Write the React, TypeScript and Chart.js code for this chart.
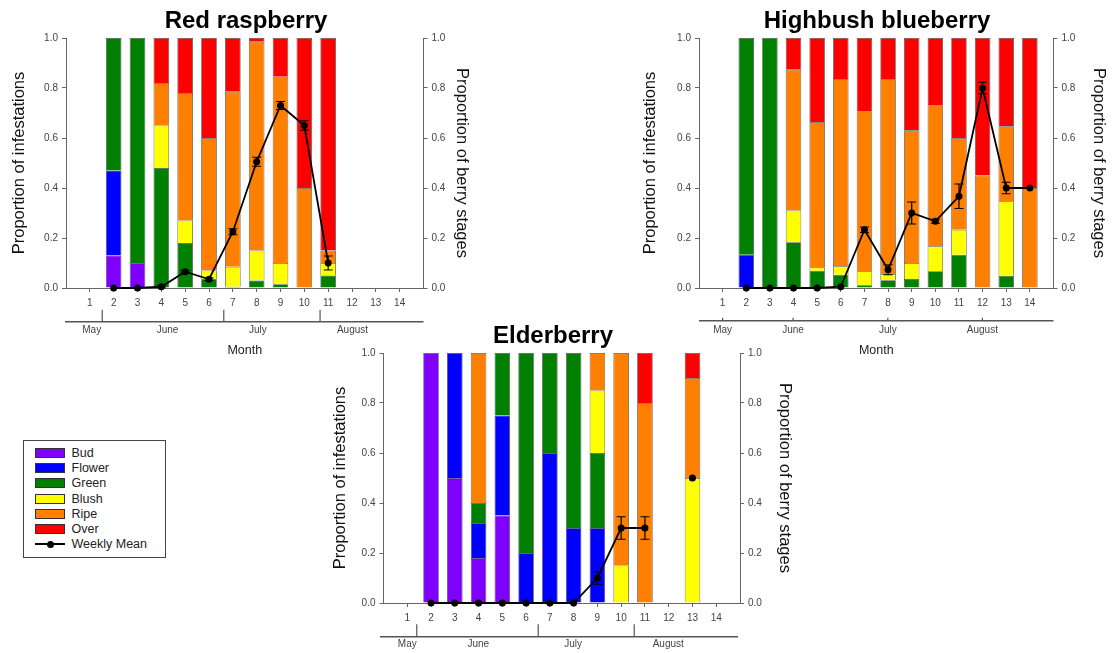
import React, { useEffect, useRef } from 'react';
import { Chart, registerables } from 'chart.js';

Chart.register(...registerables);

const FONT = '"Liberation Sans", Arial, Helvetica, sans-serif';

// ---------- data ----------
const weeks = [1, 2, 3, 4, 5, 6, 7, 8, 9, 10, 11, 12, 13, 14];
const stageNames = ['Bud', 'Flower', 'Green', 'Blush', 'Ripe', 'Over'];
const stageColors = ['#8000FF', '#0000FF', '#008000', '#FFFF00', '#FF8000', '#FF0000'];
const monthNames = ['May', 'June', 'July', 'August'];

// Red raspberry
const raspBud = [0, 0.13, 0.1, 0, 0, 0, 0, 0, 0, 0, 0, 0, 0, 0];
const raspFlower = [0, 0.34, 0, 0, 0, 0, 0, 0, 0, 0, 0, 0, 0, 0];
const raspGreen = [0, 0.53, 0.9, 0.48, 0.18, 0.037, 0.005, 0.03, 0.015, 0, 0.05, 0, 0, 0];
const raspBlush = [0, 0, 0, 0.17, 0.09, 0.033, 0.08, 0.12, 0.085, 0, 0.05, 0, 0, 0];
const raspRipe = [0, 0, 0, 0.17, 0.51, 0.53, 0.7, 0.835, 0.745, 0.4, 0.05, 0, 0, 0];
const raspOver = [0, 0, 0, 0.18, 0.22, 0.4, 0.215, 0.015, 0.155, 0.6, 0.85, 0, 0, 0];
const raspMean = [null, 0, 0, 0.005, 0.065, 0.035, 0.225, 0.505, 0.73, 0.65, 0.1, null, null, null];
const raspErr = [0, 0, 0, 0.004, 0.005, 0.005, 0.012, 0.018, 0.016, 0.019, 0.028, 0, 0, 0];
const raspMonthPos = [1.08, 4.26, 8.05, 12.02];
const raspMonthBounds = [1.52, 6.62, 10.66];

// Highbush blueberry
const blueBud = [0, 0, 0, 0, 0, 0, 0, 0, 0, 0, 0, 0, 0, 0];
const blueFlower = [0, 0.133, 0, 0, 0, 0, 0, 0, 0, 0, 0, 0, 0, 0];
const blueGreen = [0, 0.867, 1.0, 0.183, 0.069, 0.053, 0.011, 0.031, 0.036, 0.067, 0.133, 0, 0.049, 0];
const blueBlush = [0, 0, 0, 0.127, 0.014, 0.034, 0.056, 0.025, 0.064, 0.1, 0.1, 0, 0.298, 0];
const blueRipe = [0, 0, 0, 0.563, 0.581, 0.749, 0.64, 0.78, 0.531, 0.564, 0.367, 0.45, 0.3, 0.4];
const blueOver = [0, 0, 0, 0.127, 0.336, 0.164, 0.293, 0.164, 0.369, 0.269, 0.4, 0.55, 0.353, 0.6];
const blueMean = [null, 0, 0, 0, 0, 0.005, 0.233, 0.073, 0.3, 0.267, 0.367, 0.8, 0.4, 0.4];
const blueErr = [0, 0, 0, 0, 0, 0, 0.011, 0.02, 0.044, 0.008, 0.049, 0.023, 0.023, 0];
const blueMonthPos = [1, 3.98, 7.99, 11.99];
const blueMonthBounds = [1, 3.98, 7.99, 11.99];

// Elderberry
const elderBud = [0, 1.0, 0.5, 0.18, 0.35, 0, 0, 0, 0, 0, 0, 0, 0, 0];
const elderFlower = [0, 0, 0.5, 0.14, 0.4, 0.2, 0.6, 0.3, 0.3, 0, 0, 0, 0, 0];
const elderGreen = [0, 0, 0, 0.08, 0.25, 0.8, 0.4, 0.7, 0.3, 0, 0, 0, 0, 0];
const elderBlush = [0, 0, 0, 0, 0, 0, 0, 0, 0.25, 0.15, 0, 0, 0.5, 0];
const elderRipe = [0, 0, 0, 0.6, 0, 0, 0, 0, 0.15, 0.85, 0.8, 0, 0.4, 0];
const elderOver = [0, 0, 0, 0, 0, 0, 0, 0, 0, 0, 0.2, 0, 0.1, 0];
const elderMean = [null, 0, 0, 0, 0, 0, 0, 0, 0.1, 0.3, 0.3, null, 0.5, null];
const elderErr = [0, 0, 0, 0, 0, 0, 0, 0, 0.025, 0.045, 0.045, 0, 0, 0];
const elderMonthPos = [1.0, 3.99, 7.98, 11.98];
const elderMonthBounds = [1.4, 6.51, 10.55];

// ---------- panels ----------
const panels: any[] = [
  {
    key: 'rasp',
    title: 'Red raspberry',
    stages: [raspBud, raspFlower, raspGreen, raspBlush, raspRipe, raspOver],
    mean: raspMean,
    err: raspErr,
    month: { pos: raspMonthPos, bounds: raspMonthBounds, lineOffset: 33.7, startDx: -1, endDx: 0, tickLen: 12, labelOffset: 42, showTitle: true, titleOffset: 62.7 },
    geom: { left: 0, top: 0, w: 492, h: 365, leftW: 66, rightW: 68.5, bottomH: 77, leftPad: 10, rightPad: 20.4 },
  },
  {
    key: 'blue',
    title: 'Highbush blueberry',
    stages: [blueBud, blueFlower, blueGreen, blueBlush, blueRipe, blueOver],
    mean: blueMean,
    err: blueErr,
    month: { pos: blueMonthPos, bounds: blueMonthBounds, lineOffset: 32.7, startDx: 0, endDx: 0, tickLen: 3, labelOffset: 42, showTitle: true, titleOffset: 62.5 },
    geom: { left: 640, top: 0, w: 474, h: 365, leftW: 59, rightW: 60.5, bottomH: 77, leftPad: 0.8, rightPad: 5.1 },
  },
  {
    key: 'elder',
    title: 'Elderberry',
    stages: [elderBud, elderFlower, elderGreen, elderBlush, elderRipe, elderOver],
    mean: elderMean,
    err: elderErr,
    month: { pos: elderMonthPos, bounds: elderMonthBounds, lineOffset: 33.7, startDx: -3.5, endDx: -2, tickLen: 12.4, labelOffset: 41.3, showTitle: false, titleOffset: 0 },
    geom: { left: 306, top: 315, w: 494, h: 338, leftW: 77.5, rightW: 60, bottomH: 50, leftPad: 24.4, rightPad: 5.1 },
  },
];

// ---------- plugins ----------
function errorBarPlugin(mean: any[], err: number[]) {
  return {
    id: 'errBars',
    afterDatasetsDraw(chart: any) {
      const xs = chart.scales.x;
      const ys = chart.scales.y2;
      const ctx = chart.ctx;
      ctx.save();
      ctx.strokeStyle = '#000';
      ctx.lineWidth = 1.2;
      weeks.forEach((w, k) => {
        const m = mean[k];
        const e = err[k];
        if (m == null || !e) return;
        const x = xs.getPixelForValue(w);
        const yt = ys.getPixelForValue(m + e);
        const yb = ys.getPixelForValue(m - e);
        ctx.beginPath();
        ctx.moveTo(x, yt);
        ctx.lineTo(x, yb);
        ctx.moveTo(x - 4.5, yt);
        ctx.lineTo(x + 4.5, yt);
        ctx.moveTo(x - 4.5, yb);
        ctx.lineTo(x + 4.5, yb);
        ctx.stroke();
      });
      ctx.restore();
    },
  };
}

function monthPlugin(m: any) {
  return {
    id: 'monthAxis',
    afterDraw(chart: any) {
      const { ctx, chartArea: a } = chart;
      const xs = chart.scales.x;
      const px = (v: number) => xs.getPixelForValue(v);
      const yLine = a.bottom + m.lineOffset;
      ctx.save();
      ctx.strokeStyle = '#555';
      ctx.lineWidth = 1.5;
      ctx.beginPath();
      ctx.moveTo(a.left + m.startDx, yLine);
      ctx.lineTo(a.right + m.endDx, yLine);
      ctx.stroke();
      ctx.lineWidth = 1.2;
      m.bounds.forEach((b: number) => {
        ctx.beginPath();
        ctx.moveTo(px(b), yLine);
        ctx.lineTo(px(b), yLine - m.tickLen);
        ctx.stroke();
      });
      ctx.fillStyle = '#444';
      ctx.font = `10px ${FONT}`;
      ctx.textAlign = 'center';
      ctx.textBaseline = 'middle';
      monthNames.forEach((n, i) => ctx.fillText(n, px(m.pos[i]), a.bottom + m.labelOffset));
      if (m.showTitle) {
        ctx.font = `12.5px ${FONT}`;
        ctx.fillStyle = '#222';
        ctx.fillText('Month', (a.left + a.right) / 2, a.bottom + m.titleOffset);
      }
      ctx.restore();
    },
  };
}

function buildConfig(p: any): any {
  const g = p.geom;
  const datasets: any[] = stageNames.map((name, si) => ({
    type: 'bar',
    label: name,
    data: weeks.map((w, k) => ({ x: w, y: p.stages[si][k] })).filter((d) => d.y > 0),
    backgroundColor: stageColors[si],
    borderColor: 'rgba(50,50,50,0.85)',
    borderWidth: 0.8,
    barPercentage: 0.655,
    categoryPercentage: 1,
    yAxisID: 'y',
    order: 2,
  }));
  datasets.push({
    type: 'line',
    label: 'Weekly Mean',
    data: weeks.map((w, k) => ({ x: w, y: p.mean[k] })),
    borderColor: '#000',
    borderWidth: 1.8,
    pointRadius: 3.5,
    pointBackgroundColor: '#000',
    pointBorderWidth: 0,
    tension: 0,
    spanGaps: false,
    clip: false,
    yAxisID: 'y2',
    order: 0,
  });

  const tickFont = { family: FONT, size: 10 };
  const titleFont = { family: FONT, size: 16.5 };

  return {
    type: 'bar',
    data: { datasets },
    options: {
      animation: false,
      responsive: false,
      devicePixelRatio: 1,
      events: [],
      layout: { padding: 0 },
      plugins: {
        legend: { display: false },
        tooltip: { enabled: false },
        title: {
          display: true,
          text: p.title,
          color: '#000',
          font: { family: FONT, size: 24, weight: 'bold' },
          padding: { top: 7, bottom: 2.2 },
        },
      },
      scales: {
        x: {
          type: 'linear',
          min: 0,
          max: 15,
          offset: false,
          stacked: true,
          afterFit: (s: any) => {
            s.height = g.bottomH;
          },
          ticks: {
            stepSize: 1,
            autoSkip: false,
            maxRotation: 0,
            padding: 5,
            color: '#444',
            font: tickFont,
            callback: (v: any) => (v >= 1 && v <= 14 ? String(v) : ''),
          },
          grid: {
            drawOnChartArea: false,
            offset: false,
            tickLength: 4,
            color: (c: any) => (c.tick && c.tick.value >= 1 && c.tick.value <= 14 ? '#666' : 'rgba(0,0,0,0)'),
          },
          border: { color: '#666', width: 1 },
        },
        y: {
          position: 'left',
          stacked: true,
          min: 0,
          max: 1,
          afterFit: (s: any) => {
            s.width = g.leftW;
          },
          ticks: {
            stepSize: 0.2,
            padding: 4,
            color: '#444',
            font: tickFont,
            callback: (v: any) => Number(v).toFixed(1),
          },
          grid: { drawOnChartArea: false, tickLength: 4, color: '#666' },
          border: { color: '#666', width: 1 },
          title: {
            display: true,
            text: 'Proportion of infestations',
            color: '#111',
            font: titleFont,
            padding: { top: g.leftPad, bottom: 0 },
          },
        },
        y2: {
          position: 'right',
          min: 0,
          max: 1,
          afterFit: (s: any) => {
            s.width = g.rightW;
          },
          ticks: {
            stepSize: 0.2,
            padding: 4,
            color: '#444',
            font: tickFont,
            callback: (v: any) => Number(v).toFixed(1),
          },
          grid: { drawOnChartArea: false, tickLength: 4, color: '#666' },
          border: { color: '#666', width: 1 },
          title: {
            display: true,
            text: 'Proportion of berry stages',
            color: '#111',
            font: titleFont,
            padding: { top: g.rightPad, bottom: 0 },
          },
        },
      },
    },
    plugins: [errorBarPlugin(p.mean, p.err), monthPlugin(p.month)],
  };
}

function PanelChart({ panel }: { panel: any }) {
  const ref = useRef<HTMLCanvasElement | null>(null);
  useEffect(() => {
    if (!ref.current) return;
    const chart = new Chart(ref.current, buildConfig(panel));
    return () => chart.destroy();
  }, [panel]);
  const g = panel.geom;
  return (
    <canvas
      ref={ref}
      width={g.w}
      height={g.h}
      style={{ position: 'absolute', left: g.left, top: g.top, width: g.w, height: g.h }}
    />
  );
}

function Legend() {
  const rowTop = (i: number) => 11.7 + i * 15.27;
  return (
    <div
      style={{
        position: 'absolute',
        left: 23,
        top: 440,
        width: 141,
        height: 116,
        border: '1px solid #444',
        background: 'transparent',
        fontFamily: FONT,
        fontSize: 12.5,
        color: '#222',
      }}
    >
      {stageNames.map((n, i) => (
        <div key={n}>
          <div
            style={{
              position: 'absolute',
              left: 11,
              top: rowTop(i) - 5,
              width: 28,
              height: 8,
              background: stageColors[i],
              border: '1px solid #333',
            }}
          />
          <div style={{ position: 'absolute', left: 47.5, top: rowTop(i) - 8, lineHeight: '16px', whiteSpace: 'nowrap' }}>{n}</div>
        </div>
      ))}
      <div
        style={{ position: 'absolute', left: 11, top: rowTop(6) - 1, width: 30, height: 2, background: '#000' }}
      />
      <div
        style={{
          position: 'absolute',
          left: 22.5,
          top: rowTop(6) - 3.5,
          width: 7,
          height: 7,
          borderRadius: '50%',
          background: '#000',
        }}
      />
      <div style={{ position: 'absolute', left: 47.5, top: rowTop(6) - 8, lineHeight: '16px', whiteSpace: 'nowrap' }}>
        Weekly Mean
      </div>
    </div>
  );
}

export default function App() {
  return (
    <div
      style={{
        position: 'fixed',
        left: 0,
        top: 0,
        width: 1113,
        height: 653,
        overflow: 'hidden',
        background: '#fff',
      }}
    >
      {panels.map((p) => (
        <PanelChart key={p.key} panel={p} />
      ))}
      <Legend />
    </div>
  );
}
